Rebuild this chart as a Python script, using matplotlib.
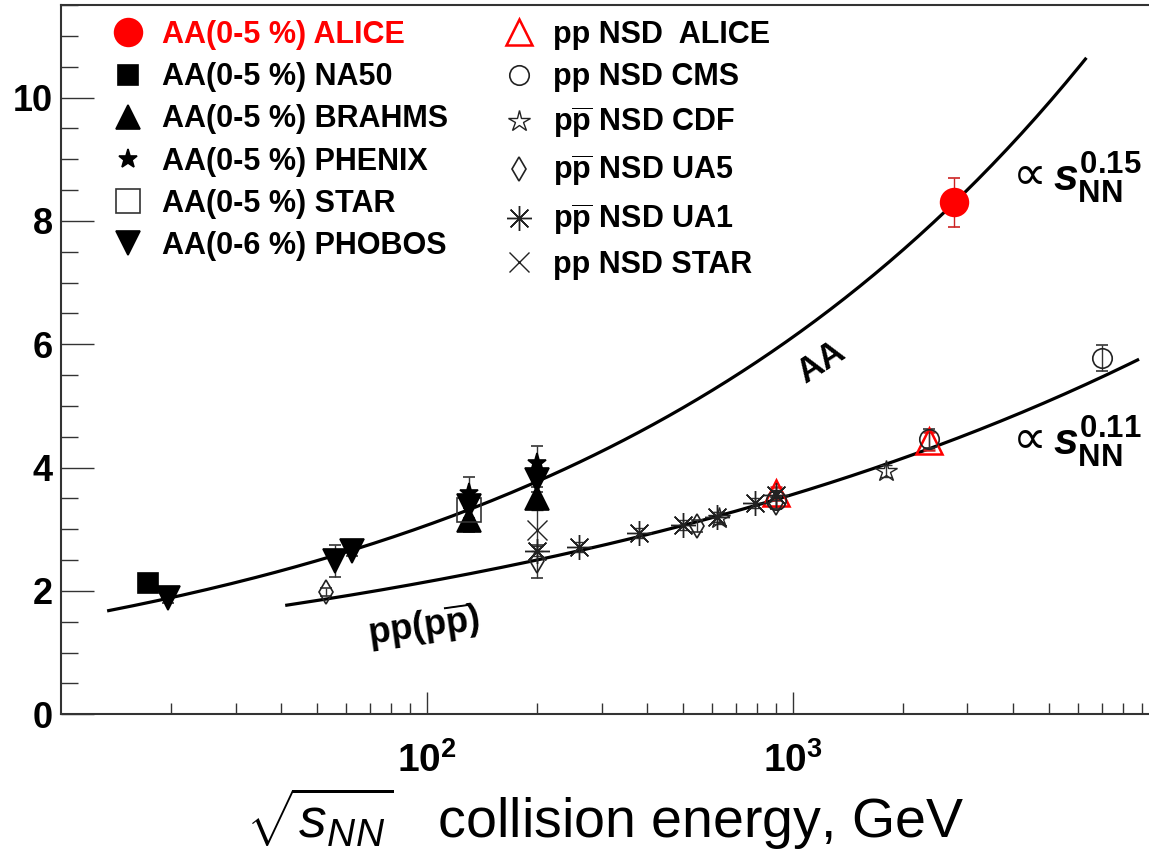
import numpy as np
import matplotlib.pyplot as plt
from matplotlib.ticker import FixedLocator, LogLocator, MultipleLocator, NullFormatter, LogFormatterSciNotation

plt.rcParams['font.family'] = ['Liberation Sans', 'DejaVu Sans']
plt.rcParams['font.weight'] = 'bold'
plt.rcParams['mathtext.fontset'] = 'custom'
plt.rcParams['mathtext.rm'] = 'Liberation Sans:weight=bold'
plt.rcParams['mathtext.bf'] = 'Liberation Sans:weight=bold'
plt.rcParams['mathtext.it'] = 'Liberation Sans:style=italic:weight=bold'
plt.rcParams['mathtext.sf'] = 'Liberation Sans:style=italic:weight=normal'

# central A-A: sqrt(s_NN) in GeV, dNch/deta per participant pair
alice_aa_e = [2760]
alice_aa_v = [8.3]
alice_aa_err = [0.4]
na50_e = [17.3]
na50_v = [2.13]
na50_err = [0.08]
brahms_e = [130, 200]
brahms_v = [3.15, 3.51]
brahms_err = [0.2, 0.18]
phenix_e = [130, 200]
phenix_v = [3.59, 4.07]
phenix_err = [0.25, 0.28]
star_aa_e = [130]
star_aa_v = [3.32]
star_aa_err = [0.15]
phobos_e = [19.6, 56, 62.4, 130, 200]
phobos_v = [1.88, 2.48, 2.64, 3.38, 3.80]
phobos_err = [0.08, 0.26, 0.08, 0.2, 0.2]

# pp / ppbar non-single-diffractive
alice_pp_e = [900, 2360]
alice_pp_v = [3.58, 4.43]
alice_pp_err = [0.1, 0.15]
cms_e = [900, 2360, 7000]
cms_v = [3.48, 4.47, 5.78]
cms_err = [0.13, 0.16, 0.21]
cdf_e = [630, 1800]
cdf_v = [3.18, 3.95]
cdf_err = [0.1, 0.1]
ua5_e = [53, 200, 546, 900]
ua5_v = [1.98, 2.48, 3.05, 3.43]
ua5_err = [0.07, 0.27, 0.1, 0.1]
ua1_e = [200, 260, 380, 500, 620, 790, 900]
ua1_v = [2.65, 2.71, 2.94, 3.07, 3.20, 3.42, 3.56]
ua1_err = [0.08, 0.08, 0.08, 0.08, 0.08, 0.08, 0.08]
star_pp_e = [200]
star_pp_v = [2.98]
star_pp_err = [0.34]

# power-law fits  a * sqrt(s)^(2p)
aa_norm, aa_pow, aa_range = 0.77, 0.15, (13.5, 6300)
pp_norm, pp_pow, pp_range = 0.78, 0.11, (41.4, 8750)

fig = plt.figure(figsize=(11.49, 8.61), dpi=100)
ax = fig.add_axes([61/1149, 1-714.3/861, 1-61/1149, 709.3/861])

for norm, p, rng in [(aa_norm, aa_pow, aa_range), (pp_norm, pp_pow, pp_range)]:
    e = np.geomspace(rng[0], rng[1], 200)
    ax.plot(e, norm*e**(2*p), color='black', lw=2.3, zorder=2)

def draw(e, v, err, marker, ms, fc, ec, color='#333333', mew=1.2, label=None):
    eb = ax.errorbar(e, v, yerr=err, fmt='', marker=marker, ls='none', ms=ms, mfc=fc, mec=ec, mew=mew,
                     ecolor=color, elinewidth=1, capsize=4, capthick=1, label=label, zorder=3)
    return eb[0]

h1 = [
    draw(alice_aa_e, alice_aa_v, alice_aa_err, 'o', 20, 'red', 'red', color='#cc2222'),
    draw(na50_e, na50_v, na50_err, 's', 14, 'black', 'black'),
    draw(brahms_e, brahms_v, brahms_err, '^', 17, 'black', 'black'),
    draw(phenix_e, phenix_v, phenix_err, '*', 14, 'black', 'black'),
    draw(star_aa_e, star_aa_v, star_aa_err, 's', 17, 'none', '#333333'),
    draw(phobos_e, phobos_v, phobos_err, 'v', 17, 'black', 'black'),
]
h2 = [
    draw(alice_pp_e, alice_pp_v, alice_pp_err, '^', 19, 'none', 'red', color='#cc2222', mew=1.8),
    draw(cms_e, cms_v, cms_err, 'o', 14, 'none', '#222222'),
    draw(cdf_e, cdf_v, cdf_err, '*', 16, 'none', '#222222', mew=1.0),
    draw(ua5_e, ua5_v, ua5_err, 'd', 12, 'none', '#222222'),
    draw(ua1_e, ua1_v, ua1_err, (8, 2, 0), 18, 'none', '#222222', mew=1.0),
    draw(star_pp_e, star_pp_v, star_pp_err, 'x', 15, 'none', '#222222', mew=1.0),
]
names1 = ['AA(0-5 %) ALICE', 'AA(0-5 %) NA50', 'AA(0-5 %) BRAHMS',
          'AA(0-5 %) PHENIX', 'AA(0-5 %) STAR', 'AA(0-6 %) PHOBOS']
names2 = ['pp NSD  ALICE', 'pp NSD CMS', r'p$\overline{\mathbf{p}}$ NSD CDF',
          r'p$\overline{\mathbf{p}}$ NSD UA5', r'p$\overline{\mathbf{p}}$ NSD UA1', 'pp NSD STAR']

leg_kw = dict(loc='upper left', frameon=False, fontsize=22, handlelength=1.0,
              handletextpad=0.6, labelspacing=0.40, borderpad=0, borderaxespad=0,
              numpoints=1)
leg_top = (714.3-20)/709.3
leg1 = ax.legend(h1, names1, bbox_to_anchor=((112.7-61)/1088, leg_top), **leg_kw)
leg1.get_texts()[0].set_color('red')
ax.add_artist(leg1)
leg2 = ax.legend(h2, names2, bbox_to_anchor=((503.7-61)/1088, leg_top), **leg_kw)

ax.text(1195, 5.71, 'AA', rotation=33, fontsize=25, ha='center', va='center', rotation_mode='anchor')
ax.text(98, 1.41, r'pp(p$\overline{\mathbf{p}}$)', rotation=8, fontsize=26, ha='center', va='center',
        rotation_mode='anchor')

# power-law labels next to the fits
for y_lab, expo in [(8.47, '0.15'), (4.2, '0.11')]:
    ax.text(4000, y_lab + 0.04, '\u221d', fontsize=34, fontweight='normal',
            family='DejaVu Sans', ha='left', va='baseline')
    ax.text(5130, y_lab, r'$s_{\mathbf{NN}}^{\mathbf{%s}}$' % expo, fontsize=32, ha='left', va='baseline')

ax.set_xscale('log')
ax.set_xlim(10, 9400)
ax.set_ylim(0, 11.5)
ax.xaxis.set_major_locator(FixedLocator([100, 1000]))
ax.xaxis.set_major_formatter(LogFormatterSciNotation())
ax.xaxis.set_minor_locator(LogLocator(base=10, subs=range(2, 10)))
ax.xaxis.set_minor_formatter(NullFormatter())
ax.yaxis.set_major_locator(MultipleLocator(2))
ax.yaxis.set_minor_locator(MultipleLocator(0.5))

ax.tick_params(which='both', direction='in', top=False, right=False, color='#333333')
ax.tick_params(axis='y', which='major', length=24, width=1, labelsize=26, pad=6)
ax.tick_params(axis='y', which='minor', length=12, width=1)
ax.tick_params(axis='x', which='major', length=16, width=1, labelsize=28, pad=20)
ax.tick_params(axis='x', which='minor', length=8, width=1)
for s in ['left', 'bottom', 'top']:
    ax.spines[s].set_linewidth(1.5)
    ax.spines[s].set_color('#333333')
ax.spines['right'].set_visible(False)

ax.set_xlabel(r'$\sqrt{\mathsf{s}_{\mathsf{NN}}}$   collision energy, GeV', fontsize=40,
              fontweight='normal', labelpad=4)

fig.savefig('out.png', dpi=100)
